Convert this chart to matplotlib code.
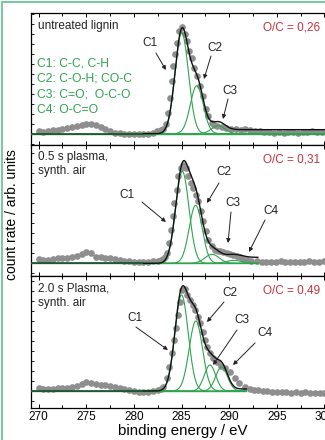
import numpy as np
import matplotlib.pyplot as plt
from matplotlib.patches import Rectangle
from matplotlib.ticker import MultipleLocator

plt.rcParams['font.family'] = ['Liberation Sans', 'DejaVu Sans']

# ---- measured spectra (binding energy in eV, counts in arb. units above baseline)
e_untreated = [270.0, 270.5, 271.0, 271.5, 272.0, 272.5, 273.0, 273.5, 274.0, 274.5, 275.0, 275.5,
               276.0, 276.5, 277.0, 277.5, 278.0, 278.5, 279.0, 279.5, 280.0, 280.5, 281.0, 281.5,
               282.0, 282.4, 282.8, 283.1, 283.4, 283.6, 283.8, 283.95, 284.13, 284.3, 284.48, 284.76,
               285.07, 285.36, 285.6, 285.8, 286.06, 286.34, 286.6, 286.93, 287.28, 287.56, 287.8,
               288.16, 288.45, 288.7, 289.2, 289.7, 290.2, 290.7, 291.2, 291.7, 292.2, 292.7, 293.2,
               293.7, 294.2, 294.7, 295.2, 295.7, 296.2, 296.7, 297.2, 297.7, 298.2, 298.7, 299.2,
               299.7, 300.2]
c_untreated = [3, 2, 3, 4, 4, 5, 6, 7, 8, 9, 10, 10,
               9, 7, 5, 3, 1, 0.5, 0, 0, 0, -0.5, 0, 0,
               0.5, 2.8, 3.5, 4.5, 9.5, 21, 36, 53, 68, 80, 91, 103,
               107, 99.5, 93, 83, 76, 66, 58, 48, 38, 24.5, 18,
               11, 9, 8, 7, 5.5, 4.5, 4.5, 4, 4.5, 4, 3, 2.5,
               2, 1.5, 1, 1.5, 1, 2, 1.5, 1, 1.5, 2, 2.5, 1.5,
               1.5, 2]

e_05s = [270.0, 270.5, 271.0, 271.5, 272.0, 272.5, 273.0, 273.5, 274.0, 274.5, 275.0, 275.5,
         276.0, 276.5, 277.0, 277.5, 278.0, 278.5, 279.0, 279.5, 280.0, 280.5, 281.0, 281.5,
         282.0, 282.5, 282.8, 283.1, 283.3, 283.5, 283.71, 283.85, 284.06, 284.24, 284.48, 284.66,
         284.9, 285.18, 285.46, 285.71, 285.95, 286.23, 286.51, 286.76, 287.04, 287.28, 287.56,
         287.81, 288.16, 288.51, 288.8, 289.03, 289.4, 289.73, 290.1, 290.43, 290.8, 291.13,
         291.5, 291.83, 292.3, 292.9, 293.4, 293.9, 294.4, 294.9, 295.4, 295.9, 296.4, 296.9,
         297.4, 297.9, 298.4, 298.9, 299.4, 299.9, 300.4]
c_05s = [4.3, 3.5, 3.3, 4, 5, 5, 5, 6, 7.7, 9.5, 11, 10,
         6.7, 6, 5.3, 5, 4.3, 3.5, 2.7, 2, 1.7, 1.5, 1.3, 1.7,
         2, 2.7, 3, 4, 6, 10, 20, 33, 47, 60, 73, 87,
         95, 98, 95, 87, 80, 75, 68, 62, 52, 42, 32,
         23, 17, 13, 12.5, 12, 11, 10, 9, 8, 7, 6,
         4.5, 3, 2.5, 2, 1.5, 1.5, 1, 1.5, 2, 1.5, 1, 1.5,
         1, 1.5, 2, 1.5, 1.5, 2, 1.5]

e_20s = [270.0, 270.5, 271.0, 271.5, 272.0, 272.5, 273.0, 273.5, 274.0, 274.5, 275.0, 275.5,
         276.0, 276.5, 277.0, 277.5, 278.0, 278.5, 279.0, 279.5, 280.0, 280.5, 281.0, 281.5,
         282.0, 282.5, 282.8, 283.08, 283.43, 283.71, 283.96, 284.2, 284.41, 284.62, 284.83,
         285.08, 285.36, 285.6, 285.88, 286.16, 286.41, 286.69, 286.93, 287.21, 287.46, 287.7,
         287.98, 288.33, 288.68, 289.1, 289.56, 290.08, 290.61, 291.06, 291.66, 292.18, 292.6,
         293.06, 293.5, 294.0, 294.5, 295.0, 295.5, 296.0, 296.5, 297.0, 297.5, 298.0, 298.5,
         299.0, 299.5, 300.0, 300.5]
c_20s = [2.7, 2.5, 2, 2.5, 2.7, 3, 3.3, 4, 5.3, 7, 9.3, 7.7,
         6.7, 6.5, 6, 5, 4.3, 3, 2, 1, 0, -0.5, -0.7, -0.5,
         0, 1, 2, 4.3, 12.7, 24, 37.7, 51, 62.7, 76, 89,
         101, 102, 96, 91, 86, 81, 74, 67.7, 59, 51, 44,
         38, 33, 29, 25, 23, 19, 13, 7.7, 4.3, 2, 1.5,
         1.5, 0.5, 0, -0.5, -0.7, -1, -1, -1.5, -1, -1.5, -1, -1.5,
         -2, -1.5, -2, -2.5]

# ---- fitted components: centre (eV), height, sigma (eV)
peaks_untreated = {'C1': (285.02, 101, 0.70), 'C2': (286.6, 48, 0.68), 'C3': (288.85, 8, 0.7)}
peaks_05s = {'C1': (285.08, 92, 0.70), 'C2': (286.48, 58, 0.68), 'C3': (288.2, 9, 0.75),
             'C4': (290.5, 3, 0.8)}
peaks_20s = {'C1': (285.0, 96, 0.70), 'C2': (286.5, 70, 0.70), 'C3': (287.98, 26, 0.6),
             'C4': (289.2, 24, 0.62)}
shirley_step = [4, 6, 2]
fit_end = [301.0, 293.0, 291.8]

titles = ['untreated lignin', '0.5 s plasma,\nsynth. air', '2.0 s Plasma,\nsynth. air']
oc_ratio = ['O/C = 0,26', 'O/C = 0,31', 'O/C = 0,49']
legend_lines = ['C1: C-C, C-H', 'C2: C-O-H; CO-C', 'C3: C=O;  O-C-O', 'C4: O-C=O']

green = '#2ea44f'
gray = '#8e8e8e'
red = '#c8323c'

W, H = 325, 440
fig = plt.figure(figsize=(W / 100, H / 100), dpi=100)
fig.patches.append(Rectangle((2 / W, -0.1), 1.2, 1.1 - 2 / H, transform=fig.transFigure,
                             fill=False, edgecolor='#6cc49c', lw=1.3))

xmin, xmax = 269.2, 301.0
left, right, top, bottom = 31 / W, 334 / W, 1 - 13 / H, 1 - 408 / H
ph = (top - bottom) / 3
base_off = [11, 13, 17]  # pixels from baseline to lower spine
panel_px = ph * H


def gauss(x, c, h, s):
    return h * np.exp(-(x - c) ** 2 / (2 * s ** 2))


# annotation arrows: (label, text pos, tail, tip) in pixels of the picture
arrows = [
    [('C1', (150, 43), (156, 53), (166, 70)), ('C2', (215, 48), (211, 56), (204, 79)),
     ('C3', (230, 91), (228, 99), (223, 119))],
    [('C1', (127, 195), (142, 202), (166, 222)), ('C2', (224, 172), (219, 183), (207, 203)),
     ('C3', (233, 203), (231, 212), (228, 243)), ('C4', (271, 211), (265, 220), (249, 252))],
    [('C1', (135, 318), (136, 327), (168, 350)), ('C2', (230, 293), (224, 302), (207, 322)),
     ('C3', (242, 320), (237, 330), (213, 365)), ('C4', (265, 333), (255, 343), (233, 365))],
]

data = [(e_untreated, c_untreated, peaks_untreated),
        (e_05s, c_05s, peaks_05s),
        (e_20s, c_20s, peaks_20s)]

for i, (e, c, peaks) in enumerate(data):
    ax = fig.add_axes([left, top - (i + 1) * ph, right - left, ph])
    ylo = -base_off[i]
    ax.set_ylim(ylo, ylo + panel_px)
    ax.set_xlim(xmin, xmax)

    x = np.linspace(281.0, fit_end[i], 600)
    comps = [gauss(x, *p) for p in peaks.values()]
    total = np.sum(comps, axis=0)
    bg = shirley_step[i] * np.cumsum(total) / np.sum(total)
    envelope = total + bg

    ax.plot(e, c, 'o', color=gray, ms=4.8, mec='none', zorder=2)
    ax.plot([xmin, fit_end[i]], [0, 0], color=green, lw=1.0, zorder=3)
    ax.plot([xmin, 281.0], [0, 0], color='#1d4a2a', lw=1.2, zorder=3)
    for comp in comps:
        ax.plot(x, comp, color=green, lw=0.8, zorder=3)
    ax.plot(x, envelope, color='#111111', lw=1.0, zorder=4)

    ax.text(0.024, 0.95, titles[i], transform=ax.transAxes, fontsize=8.5, va='top',
            color='#222222', linespacing=1.2)
    ax.text(0.86, 0.935, oc_ratio[i], transform=ax.transAxes, fontsize=8.5, va='top',
            ha='center', color=red)

    # pixel -> data helpers for annotations
    y0_px = 13 + (i + 1) * panel_px - base_off[i]

    def to_data(p):
        return 270 + (p[0] - 38.8) / 9.52, y0_px - p[1]

    for lab, tpos, tail, tip in arrows[i]:
        ax.text(*to_data(tpos), lab, fontsize=8.5, ha='center', va='center', color='#222222')
        ax.annotate('', xy=to_data(tip), xytext=to_data(tail),
                    arrowprops=dict(arrowstyle='-|>', color='#222222', lw=0.7,
                                    mutation_scale=6, shrinkA=0, shrinkB=0))

    if i == 0:
        for k, line in enumerate(legend_lines):
            ax.text(*to_data((37, 63 + k * 15.7)), line, fontsize=8.7, va='center',
                    color=green)

    ax.xaxis.set_major_locator(MultipleLocator(5))
    ax.xaxis.set_minor_locator(MultipleLocator(2.5))
    ax.yaxis.set_major_locator(MultipleLocator(10))
    ax.tick_params(axis='x', which='both', direction='in', top=True, labelsize=8.5,
                   length=3, width=0.7, pad=2)
    ax.tick_params(axis='x', which='minor', length=2)
    ax.tick_params(axis='y', direction='in', length=2, width=0.6, labelleft=False)
    for s in ax.spines.values():
        s.set_linewidth(0.9)
    if i < 2:
        ax.tick_params(axis='x', labelbottom=False)
    else:
        ax.set_xlabel('binding energy / eV', fontsize=10.8, labelpad=1)

fig.text(12 / W, 1 - 215 / H, 'count rate / arb. units', rotation=90, fontsize=10,
         ha='center', va='center')

fig.savefig('out.png', dpi=100)
